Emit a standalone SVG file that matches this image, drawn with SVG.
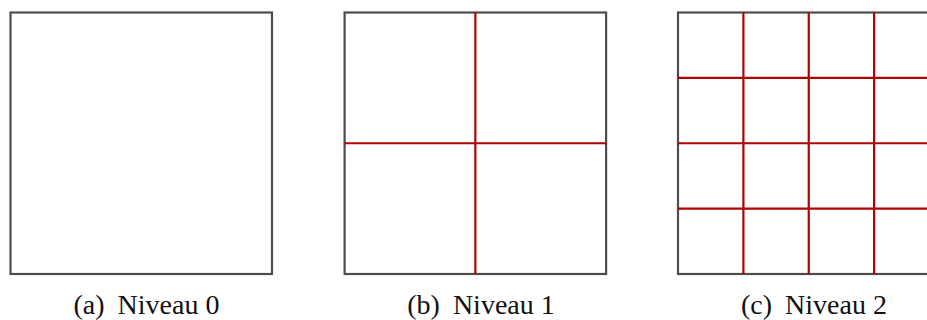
<svg xmlns="http://www.w3.org/2000/svg" width="927" height="320" viewBox="0 0 927 320">
<style>
.frame{fill:none;stroke:#4d4d4d;stroke-width:2.2}
.grid{stroke:#b30000;stroke-width:2.2;fill:none}
.cap{font-family:"Liberation Serif","DejaVu Serif",serif;font-size:28px;fill:#111;text-anchor:middle}
</style>
<g id="level0">
<rect class="frame" x="10.5" y="12.5" width="261.5" height="261.5"/>
<text class="cap" x="146.5" y="314">(a)<tspan dx="13">Niveau 0</tspan></text>
</g>
<g id="level1">
<rect class="frame" x="344.6" y="12.5" width="261.5" height="261.5"/>
<g class="grid">
<line x1="475.35" y1="12.5" x2="475.35" y2="274"/>
<line x1="344.6" y1="143.25" x2="606.1" y2="143.25"/>
</g>
<text class="cap" x="481" y="314">(b)<tspan dx="13">Niveau 1</tspan></text>
</g>
<g id="level2">
<rect class="frame" x="678" y="12.5" width="261.5" height="261.5"/>
<g class="grid">
<line x1="743.4" y1="12.5" x2="743.4" y2="274"/>
<line x1="808.75" y1="12.5" x2="808.75" y2="274"/>
<line x1="874.1" y1="12.5" x2="874.1" y2="274"/>
<line x1="678" y1="77.9" x2="939.5" y2="77.9"/>
<line x1="678" y1="143.25" x2="939.5" y2="143.25"/>
<line x1="678" y1="208.6" x2="939.5" y2="208.6"/>
</g>
<text class="cap" x="814" y="314">(c)<tspan dx="13">Niveau 2</tspan></text>
</g>
</svg>
